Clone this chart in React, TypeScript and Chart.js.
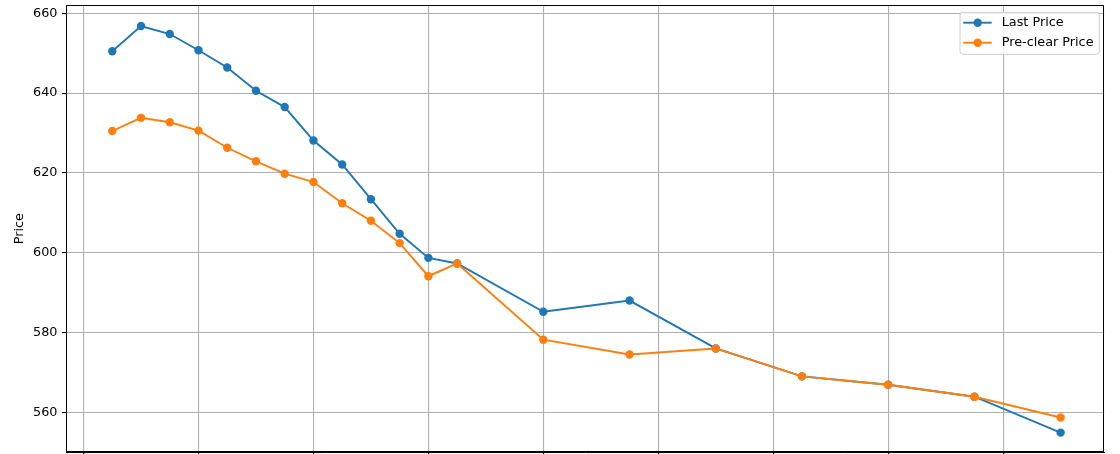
import React, { useEffect, useRef } from "react";
import { Chart, registerables } from "chart.js";

Chart.register(...registerables);

// ---- data ----
const xValues = [1, 2, 3, 4, 5, 6, 7, 8, 9, 10, 11, 12, 13, 16, 19, 22, 25, 28, 31, 34];
const lastPrice = [
  650.5, 656.8, 654.8, 650.75, 646.4, 640.6, 636.5, 628.1, 622.1, 613.4,
  604.75, 598.7, 597.3, 585.2, 588.0, 576.0, 569.0, 566.9, 563.9, 554.9,
];
const preClearPrice = [
  630.5, 633.8, 632.7, 630.6, 626.3, 622.9, 619.8, 617.7, 612.4, 608.0,
  602.4, 594.1, 597.3, 578.2, 574.5, 576.0, 569.0, 566.9, 563.9, 558.7,
];
const seriesNames = ["Last Price", "Pre-clear Price"];
const seriesColors = ["#1f77b4", "#ff7f0e"];
const yTicks = [560, 580, 600, 620, 640, 660];
const xTicks = [0, 4, 8, 12, 16, 20, 24, 28, 32];
const yAxisTitle = "Price";

const FONT = "DejaVu Sans";

const framePlugin = {
  id: "frameAndLegend",
  afterDatasetsDraw(chart: any) {
    const { ctx, chartArea } = chart;
    const { left, right, top, bottom } = chartArea;
    ctx.save();
    ctx.strokeStyle = "#000";
    ctx.lineWidth = 1;
    ctx.strokeRect(
      Math.round(left) + 0.5,
      Math.round(top) + 0.5,
      Math.round(right) - Math.round(left) - 1,
      Math.round(bottom) - Math.round(top) - 1
    );
    ctx.restore();
  },
  afterDraw(chart: any) {
    const { ctx, chartArea } = chart;
    const { right, top } = chartArea;
    const bw = 139.3;
    const bh = 42;
    const bx = right - 5 - bw;
    const by = top + 7.3;
    ctx.save();
    ctx.beginPath();
    const r = 3;
    ctx.moveTo(bx + r, by);
    ctx.lineTo(bx + bw - r, by);
    ctx.arcTo(bx + bw, by, bx + bw, by + r, r);
    ctx.lineTo(bx + bw, by + bh - r);
    ctx.arcTo(bx + bw, by + bh, bx + bw - r, by + bh, r);
    ctx.lineTo(bx + r, by + bh);
    ctx.arcTo(bx, by + bh, bx, by + bh - r, r);
    ctx.lineTo(bx, by + r);
    ctx.arcTo(bx, by, bx + r, by, r);
    ctx.closePath();
    ctx.fillStyle = "rgba(255,255,255,0.8)";
    ctx.fill();
    ctx.strokeStyle = "#cccccc";
    ctx.lineWidth = 1;
    ctx.stroke();

    seriesNames.forEach((name, i) => {
      const y = by + 10.4 + i * 20;
      ctx.strokeStyle = seriesColors[i];
      ctx.lineWidth = 1.9;
      ctx.beginPath();
      ctx.moveTo(bx + 3.3, y);
      ctx.lineTo(bx + 31.7, y);
      ctx.stroke();
      ctx.fillStyle = seriesColors[i];
      ctx.beginPath();
      ctx.arc(bx + 17.7, y, 4.2, 0, Math.PI * 2);
      ctx.fill();
      ctx.fillStyle = "#000";
      ctx.font = `12.8px "${FONT}"`;
      ctx.textBaseline = "middle";
      ctx.textAlign = "left";
      ctx.fillText(name, bx + 41.7, y);
    });
    ctx.restore();
  },
};

export default function App() {
  const canvasRef = useRef<HTMLCanvasElement | null>(null);

  useEffect(() => {
    if (!canvasRef.current) return;
    const makeSeries = (vals: number[]) => xValues.map((x, i) => ({ x, y: vals[i] }));
    const chart = new Chart(canvasRef.current, {
      type: "line",
      data: {
        datasets: [
          {
            label: seriesNames[0],
            data: makeSeries(lastPrice),
            borderColor: seriesColors[0],
            backgroundColor: seriesColors[0],
            borderWidth: 1.9,
            pointRadius: 4.2,
            pointBorderWidth: 0,
            pointHoverRadius: 4.2,
            tension: 0,
            order: 1,
          },
          {
            label: seriesNames[1],
            data: makeSeries(preClearPrice),
            borderColor: seriesColors[1],
            backgroundColor: seriesColors[1],
            borderWidth: 1.9,
            pointRadius: 4.2,
            pointBorderWidth: 0,
            pointHoverRadius: 4.2,
            tension: 0,
            order: 0,
          },
        ],
      },
      options: {
        animation: false,
        responsive: false,
        maintainAspectRatio: false,
        layout: { autoPadding: false, padding: { left: 0, top: 5, right: 15.7, bottom: 0 } },
        plugins: {
          legend: { display: false },
          tooltip: { enabled: false },
          title: { display: false },
        },
        scales: {
          x: {
            type: "linear",
            min: -0.6,
            max: 35.52,
            afterBuildTicks: (scale: any) => {
              scale.ticks = xTicks.map((v) => ({ value: v }));
            },
            afterFit: (scale: any) => {
              scale.height = 1.7;
              scale.paddingLeft = 0;
              scale.paddingRight = 0;
              scale.paddingTop = 0;
              scale.paddingBottom = 0;
            },
            ticks: {
              callback: () => "",
              padding: 0,
            },
            grid: {
              color: "#b0b0b0",
              lineWidth: 1.1,
              tickColor: "#000",
              tickLength: 4.4,
              drawTicks: true,
            },
            border: { display: true, color: "#000", width: 1 },
          },
          y: {
            type: "linear",
            min: 549.97,
            max: 662.08,
            afterBuildTicks: (scale: any) => {
              scale.ticks = yTicks.map((v) => ({ value: v }));
            },
            afterFit: (scale: any) => {
              scale.width = 66.3;
              scale.paddingTop = 0;
              scale.paddingBottom = 0;
              scale.paddingLeft = 0;
              scale.paddingRight = 0;
            },
            ticks: {
              color: "#000",
              font: { family: FONT, size: 12.8 },
              padding: 4.4,
            },
            grid: {
              color: "#b0b0b0",
              lineWidth: 1.1,
              tickColor: "#000",
              tickLength: 4.4,
            },
            border: { display: true, color: "#000", width: 1 },
            title: {
              display: true,
              text: yAxisTitle,
              color: "#000",
              font: { family: FONT, size: 12.8 },
              padding: { top: 12.3, bottom: 0 },
            },
          },
        },
      },
      plugins: [framePlugin],
    });
    return () => chart.destroy();
  }, []);

  return (
    <div
      style={{
        position: "fixed",
        left: 0,
        top: 0,
        width: 1120,
        height: 454,
        background: "#fff",
        overflow: "hidden",
      }}
    >
      <canvas ref={canvasRef} width={1120} height={454} style={{ display: "block" }} />
    </div>
  );
}
